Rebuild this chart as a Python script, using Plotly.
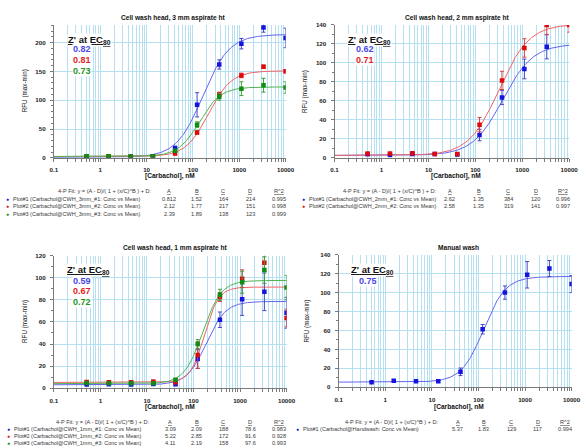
import numpy as np
import plotly.graph_objects as go

W, H = 586, 448
FONT = "Liberation Sans, Arial, sans-serif"

# ---------------- data ----------------
conc = [0.508, 1.52, 4.57, 13.7, 41.2, 123, 370, 1111, 3333, 10000]

# Panel 1: Cell wash head, 3 mm
p1_blue = [2.0, 2.2, 2.0, 3.0, 16.5, 92, 162, 198, 226, 208]
p1_blue_err = [0.6, 0.6, 0.6, 0.6, 4, 21, 8, 9, 8, 17]
p1_red = [2.5, 2.6, 2.2, 2.6, 7.5, 44, 110, 143, 158, 150]
p1_red_err = [0.6, 0.6, 0.6, 0.6, 2, 3, 4, 4, 3, 3]
p1_green = [3.0, 3.0, 2.4, 2.6, 12.5, 57.5, 106, 120, 126, 122]
p1_green_err = [0.6, 0.6, 0.6, 0.6, 2, 5, 6, 12, 12, 10]
p1_fit = [[0.812, 1.52, 164, 214, 0.995],
          [2.12, 1.77, 217, 151, 0.998],
          [2.39, 1.89, 138, 123, 0.999]]
p1_names = ["Plot#1 (Carbachol@CWH_3mm_#1: Conc vs Mean)",
            "Plot#2 (Carbachol@CWH_3mm_#2: Conc vs Mean)",
            "Plot#3 (Carbachol@CWH_3mm_#3: Conc vs Mean)"]
p1_z = ["0.82", "0.81", "0.73"]

# Panel 2: Cell wash head, 2 mm
p2_blue = [3.8, 3.0, 4.0, 4.0, 3.5, 24, 63.6, 93.7, 117, None]
p2_blue_err = [0.5, 0.5, 0.5, 0.5, 0.5, 6, 7.5, 10.4, 12.7, 0]
p2_red = [4.5, 4.5, 4.8, 4.1, 4.0, 35, 81.6, 115.8, 140, 140]
p2_red_err = [0.6, 0.6, 0.6, 0.6, 0.6, 7.5, 9.6, 9.7, 10, 7.6]
p2_fit = [[2.62, 1.35, 384, 120, 0.996],
          [2.58, 1.35, 319, 141, 0.997]]
p2_names = ["Plot#1 (Carbachol@CWH_2mm_#1: Conc vs Mean)",
            "Plot#2 (Carbachol@CWH_2mm_#2: Conc vs Mean)"]
p2_z = ["0.62", "0.71"]

# Panel 3: Cell wash head, 1 mm
p3_blue = [3.3, 3.6, 3.3, 3.9, 3.6, 26.4, 62, 80.5, 87.3, 68.3]
p3_blue_err = [0.8, 0.8, 0.8, 0.8, 0.8, 8.5, 7, 14.6, 17, 14]
p3_red = [5.6, 5.3, 5.3, 5.9, 5.3, 30, 82.6, 99.2, 113.7, 63.6]
p3_red_err = [1.2, 1.2, 1.2, 1.5, 1.2, 12, 4, 8, 8, 8]
p3_green = [4.8, 4.5, 4.5, 4.5, 7.7, 40, 84.6, 96, 107, 91.2]
p3_green_err = [0.8, 0.8, 0.8, 0.8, 1, 4, 5, 10, 12, 11]
p3_fit = [[3.09, 2.09, 188, 78.6, 0.983],
          [5.22, 2.85, 172, 91.6, 0.928],
          [4.11, 2.19, 158, 97.6, 0.993]]
p3_names = ["Plot#1 (Carbachol@CWH_1mm_#1: Conc vs Mean)",
            "Plot#2 (Carbachol@CWH_1mm_#2: Conc vs Mean)",
            "Plot#3 (Carbachol@CWH_1mm_#3: Conc vs Mean)"]
p3_z = ["0.59", "0.67", "0.72"]

# Panel 4: Manual wash
p4_blue = [5.2, 6.9, 6.2, 6.2, 16.3, 61.3, 100, 118.8, 125.4, 109]
p4_blue_err = [0.8, 0.8, 0.8, 0.8, 4, 5, 7, 14, 8.5, 9]
p4_fit = [[5.37, 1.83, 129, 117, 0.994]]
p4_names = ["Plot#1 (Carbachol@Handwash: Conc vs Mean)"]
p4_z = ["0.75"]

titles = ["Cell wash head, 3 mm aspirate ht", "Cell wash head, 2 mm aspirate ht",
          "Cell wash head, 1 mm aspirate ht", "Manual wash"]
x_title = "[Carbachol], nM"
y_title = "RFU (max-min)"
fit_header = "4-P Fit: y = (A - D)/( 1 + (x/C)^B ) + D:"
col_heads = ["A", "B", "C", "D", "R^2"]
x_tick_vals = [0.1, 1, 10, 100, 1000, 10000]
x_tick_text = ["0.1", "1", "10", "100", "1000", "10000"]

# ---------------- styles ----------------
MK = {"b": "#1414dc", "r": "#dc0a0a", "g": "#0f8c14"}
LN = {"b": "#6464f0", "r": "#f06464", "g": "#50b450"}
EB = {"b": "#4646c8", "r": "#e03c3c", "g": "#3ca03c"}
ZC = {"b": "#4848e8", "r": "#dc1e1e", "g": "#1e961e"}
GRID = "#b4e0f2"
AX = "#7a7a7a"
TXT = "#3a3a3a"

def px(x):
    return x / W

def py(y):
    return 1 - y / H

# panel geometry in pixels: x0, x1, ytop, ybottom, ymax, ydtick, yminor
panels = [
    dict(x0=51, x1=288, yt=21, yb=156.3, ymax=231, dt=50, mn=10),
    dict(x0=338, x1=578, yt=21.3, yb=156.3, ymax=140, dt=20, mn=10),
    dict(x0=51, x1=289, yt=255.7, yb=390.3, ymax=120, dt=20, mn=10),
    dict(x0=342.3, x1=580.5, yt=254.7, yb=389.3, ymax=140, dt=20, mn=10),
]

series = [
    [("b", p1_blue, p1_blue_err), ("r", p1_red, p1_red_err), ("g", p1_green, p1_green_err)],
    [("b", p2_blue, p2_blue_err), ("r", p2_red, p2_red_err)],
    [("b", p3_blue, p3_blue_err), ("r", p3_red, p3_red_err), ("g", p3_green, p3_green_err)],
    [("b", p4_blue, p4_blue_err)],
]
fits = [p1_fit, p2_fit, p3_fit, p4_fit]
names = [p1_names, p2_names, p3_names, p4_names]
zvals = [p1_z, p2_z, p3_z, p4_z]

fig = go.Figure()
xs = np.logspace(-1, 4, 300)

all_minor = [m * 10 ** k for k in range(-1, 4) for m in range(1, 10)] + [10000]
minor_text = []
for v in all_minor:
    if v in x_tick_vals:
        minor_text.append(x_tick_text[x_tick_vals.index(v)])
    else:
        minor_text.append("")

for i in range(4):
    xa = "x" if i == 0 else f"x{i+1}"
    ya = "y" if i == 0 else f"y{i+1}"
    for (c, vals, errs), fp in zip(series[i], fits[i]):
        A, B, C, D, _ = fp
        fig.add_trace(go.Scatter(x=xs, y=(A - D) / (1 + (xs / C) ** B) + D, mode="lines",
                                 line=dict(color=LN[c], width=1), xaxis=xa, yaxis=ya,
                                 hoverinfo="skip", showlegend=False))
    for (c, vals, errs), fp in zip(series[i], fits[i]):
        fig.add_trace(go.Scatter(x=conc, y=vals, mode="markers",
                                 marker=dict(color=MK[c], size=4.5, symbol="square"),
                                 error_y=dict(type="data", array=errs, color=EB[c],
                                              thickness=1, width=2),
                                 xaxis=xa, yaxis=ya, showlegend=False))

layout = dict(width=W, height=H, margin=dict(l=0, r=0, t=0, b=0),
              paper_bgcolor="white", plot_bgcolor="white", showlegend=False,
              font=dict(family=FONT, size=7, color=TXT))

for i, p in enumerate(panels):
    xk = "xaxis" if i == 0 else f"xaxis{i+1}"
    yk = "yaxis" if i == 0 else f"yaxis{i+1}"
    ya = "y" if i == 0 else f"y{i+1}"
    xa = "x" if i == 0 else f"x{i+1}"
    layout[xk] = dict(type="log", range=[-1, 4], domain=[px(p["x0"]), px(p["x1"])],
                      anchor=ya, tickmode="array", tickvals=all_minor, ticktext=minor_text,
                      showgrid=True, gridcolor=GRID, gridwidth=1,
                      ticks="outside", ticklen=3, tickcolor=AX, tickwidth=1,
                      showline=True, linecolor=AX, linewidth=1, zeroline=False,
                      ticklabelstandoff=3,
                      tickfont=dict(size=6.2, color="#222", weight="bold", family=FONT),
                      tickangle=0)
    layout[yk] = dict(range=[0, p["ymax"]], domain=[py(p["yb"]), py(p["yt"])],
                      anchor=xa, tickmode="linear", tick0=0, dtick=p["dt"],
                      showgrid=True, gridcolor=GRID, gridwidth=1,
                      ticks="outside", ticklen=3, tickcolor=AX, tickwidth=1,
                      minor=dict(dtick=p["mn"], ticks="outside", ticklen=2, tickcolor=AX,
                                 showgrid=False),
                      showline=True, linecolor=AX, linewidth=1, zeroline=False,
                      ticklabelstandoff=3,
                      tickfont=dict(size=6.2, color="#222", weight="bold", family=FONT))

fig.update_layout(**layout)

ann = []

def A(x, y, text, size=6.3, color=TXT, xanchor="center", bold=False, bg=None, angle=0):
    d = dict(x=px(x), y=py(y), xref="paper", yref="paper", text=text, showarrow=False,
             xanchor=xanchor, yanchor="middle", textangle=angle,
             font=dict(size=size, color=color, family=FONT, weight="bold" if bold else "normal"))
    if bg:
        d["bgcolor"] = bg
        d["borderpad"] = 0
    ann.append(d)

# text positions per panel (pixels)
tpos = [
    dict(tx=173, ty=14.7, xl=170, xly=174.5, yl=21.5, zx=64, zy=36.7, vx=80, vy=[46, 57.2, 68],
         hx=153, hy=190, cols=[169, 197, 224, 252, 281], rows=[198, 205.5, 213], bx=4, nx=7.5),
    dict(tx=464, ty=14.7, xl=462, xly=175, yl=308.5, zx=351, zy=36.7, vx=369, vy=[45.5, 56.5],
         hx=444.5, hy=190, cols=[456, 485.5, 515.5, 544, 572], rows=[198, 205.5], bx=306, nx=310),
    dict(tx=175, ty=248, xl=170, xly=409, yl=21.5, zx=63, zy=270.7, vx=80, vy=[281, 292, 302.7],
         hx=151, hy=425, cols=[170, 197, 224, 252, 281], rows=[432, 439, 446], bx=4.5, nx=8),
    dict(tx=465, ty=247, xl=465, xly=409, yl=309.5, zx=354, zy=270.7, vx=372, vy=[281.3],
         hx=447, hy=425, cols=[464, 490.5, 519, 546, 574], rows=[432], bx=300, nx=304),
]

for i, t in enumerate(tpos):
    p = panels[i]
    A(t["tx"], t["ty"], titles[i], size=6.6, color="#111", bold=True)
    A(t["xl"], t["xly"], x_title, size=6.6, color="#111", bold=True)
    A(t["yl"], (p["yt"] + p["yb"]) / 2, y_title, size=6.3, color="#111", bold=False, angle=-90)
    A(t["zx"], t["zy"], "<u>Z' at EC<sub>80</sub></u>", size=9.5, color="#111", xanchor="left",
      bold=True, bg="white")
    for j, (c, _, _) in enumerate(series[i]):
        A(t["vx"], t["vy"][j], zvals[i][j], size=9, color=ZC[c], bold=True, bg="white")
    A(t["hx"], t["hy"], fit_header, size=5.6, xanchor="right")
    for k, h in enumerate(col_heads):
        A(t["cols"][k], t["hy"], f"<u>{h}</u>", size=5.6)
    for j, (c, _, _) in enumerate(series[i]):
        ry = t["rows"][j]
        A(t["bx"], ry, "●", size=5, color=MK[c])
        A(t["nx"], ry, names[i][j], size=5.5, xanchor="left")
        for k, v in enumerate(fits[i][j]):
            A(t["cols"][k], ry, "{:g}".format(v), size=5.6)

fig.update_layout(annotations=ann)
fig.write_html("out.html", config={"displayModeBar": False}, post_script=(
    "document.documentElement.style.margin='0';document.body.style.margin='0';"
    "document.body.style.padding='0';document.documentElement.style.overflow='hidden';"
    "document.body.style.overflow='hidden';"))
